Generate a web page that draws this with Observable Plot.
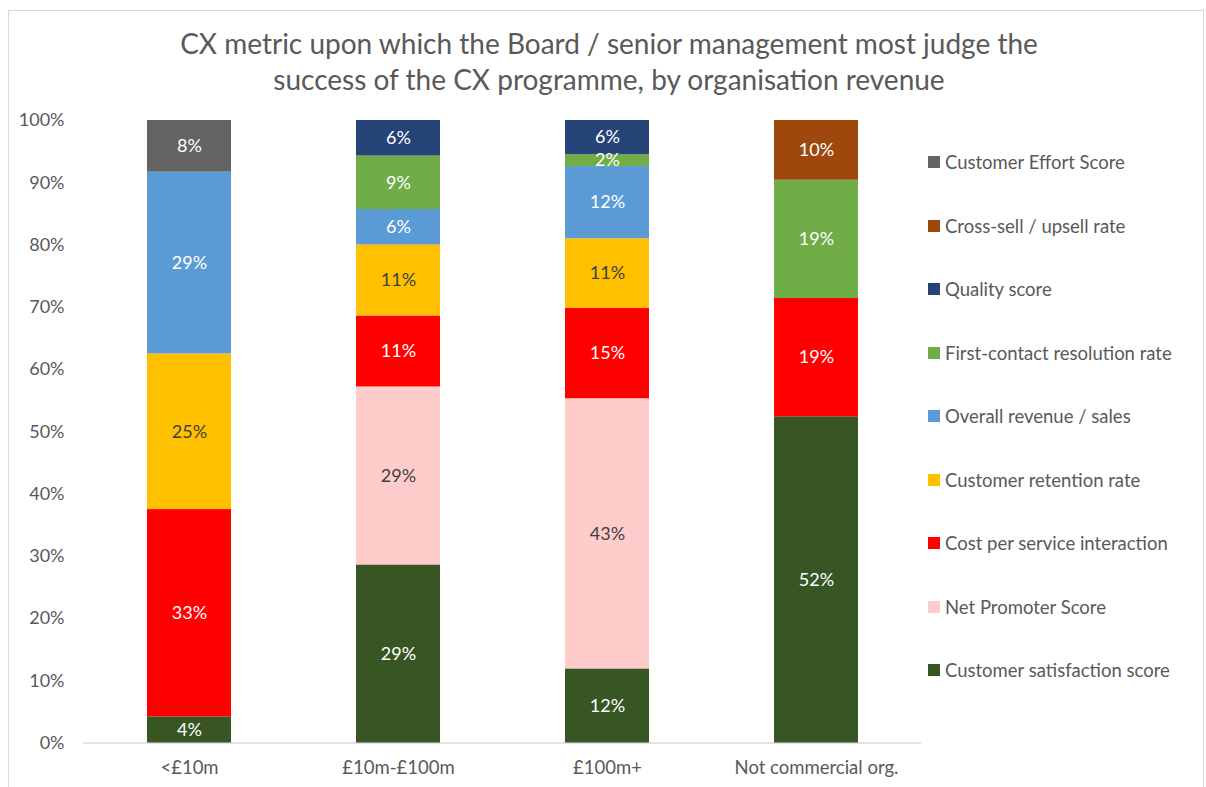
<!DOCTYPE html>
<html>
<head>
<meta charset="utf-8">
<script src="https://cdn.jsdelivr.net/npm/d3@7"></script>
<script src="https://cdn.jsdelivr.net/npm/@observablehq/plot@0.6"></script>
<style>
  html, body { margin: 0; padding: 0; background: #fff; }
  #wrap { position: relative; width: 1206px; height: 787px; overflow: hidden; font-family: Lato, "Open Sans", sans-serif; color: #595959; }
  #frame { position: absolute; left: 8px; top: 10px; width: 1196px; height: 800px; border: 1px solid #d9d9d9; box-sizing: border-box; }
  #title { position: absolute; left: 0; top: 25px; width: 1218px; text-align: center; font-size: 28px; line-height: 36px; color: #595959; }
  #chart { position: absolute; left: 0; top: 0; }
  #legend { position: absolute; left: 928px; top: 0; }
  .li { position: absolute; left: 0; white-space: nowrap; font-size: 18.5px; color: #595959; display: flex; align-items: center; }
  .sw { width: 12px; height: 12px; margin-right: 5px; }
</style>
</head>
<body>
<div id="wrap">
  <div id="frame"></div>
  <div id="chart"></div>
  <div id="title">CX metric upon which the Board / senior management most judge the<br>success of the CX programme, by organisation revenue</div>
  <div id="legend"></div>
</div>
<script>
const categories = ["<£10m", "£10m-£100m", "£100m+", "Not commercial org."];
// stacking order, bottom to top
const metrics = [
  "Customer satisfaction score",
  "Net Promoter Score",
  "Cost per service interaction",
  "Customer retention rate",
  "Overall revenue / sales",
  "First-contact resolution rate",
  "Quality score",
  "Cross-sell / upsell rate",
  "Customer Effort Score"
];
const colors = ["#375623", "#FFCCCC", "#FF0000", "#FFC000", "#5B9BD5", "#70AD47", "#264478", "#9E480E", "#636363"];
const darkLabelMetrics = ["Net Promoter Score", "Customer retention rate"];

// percentage values per metric, in category order
const csat      = [4.2, 28.6, 11.9, 52.4];
const nps       = [0, 28.6, 43.4, 0];
const cost      = [33.3, 11.4, 14.5, 19.0];
const retention = [25.0, 11.4, 11.2, 0];
const revenue   = [29.2, 5.7, 11.6, 0];
const fcr       = [0, 8.6, 1.9, 19.0];
const quality   = [0, 5.7, 5.5, 0];
const crossSell = [0, 0, 0, 9.6];
const ces       = [8.3, 0, 0, 0];
const yTicks = [0, 10, 20, 30, 40, 50, 60, 70, 80, 90, 100];

const series = [csat, nps, cost, retention, revenue, fcr, quality, crossSell, ces];
const data = [];
metrics.forEach((m, i) => {
  categories.forEach((c, j) => {
    const v = series[i][j];
    if (v > 0) data.push({category: c, metric: m, value: v, label: Math.round(v) + "%"});
  });
});

const W = 1206, H = 787;
const chart = Plot.plot({
  width: W,
  height: H,
  marginTop: 120,
  marginBottom: 44.5,
  marginLeft: 83,
  marginRight: W - 921,
  style: {fontFamily: "Lato, 'Open Sans', sans-serif", background: "transparent", overflow: "visible"},
  x: {domain: categories, paddingInner: 0.6, paddingOuter: 0.3, label: null, tickSize: 0, tickPadding: 18},
  y: {domain: [0, 100], ticks: yTicks, tickFormat: d => d + "%", label: null, tickSize: 0, tickPadding: 19},
  color: {domain: metrics, range: colors},
  marks: [
    Plot.ruleY([0], {stroke: "#d9d9d9", strokeWidth: 1.5}),
    Plot.barY(data, Plot.stackY({x: "category", y: "value", z: "metric", fill: "metric", order: metrics})),
    Plot.text(data, Plot.stackY({
      x: "category", y: "value", z: "metric", order: metrics,
      text: "label",
      fill: d => darkLabelMetrics.includes(d.metric) ? "#404040" : "#ffffff",
      fontSize: 18
    }))
  ]
});
chart.querySelectorAll("g[aria-label='y-axis tick label']").forEach(g => {
  g.setAttribute("font-size", "18");
  g.setAttribute("fill", "#595959");
});
chart.querySelectorAll("g[aria-label='x-axis tick label']").forEach(g => {
  g.setAttribute("font-size", "18.5");
  g.setAttribute("fill", "#595959");
});
document.getElementById("chart").appendChild(chart);

// legend (top to bottom = reverse of stack order)
const legend = document.getElementById("legend");
const legendOrder = metrics.slice().reverse();
legendOrder.forEach((m, i) => {
  const row = document.createElement("div");
  row.className = "li";
  row.style.top = (163 + i * 63.5 - 12) + "px";
  const sw = document.createElement("span");
  sw.className = "sw";
  sw.style.background = colors[metrics.indexOf(m)];
  const tx = document.createElement("span");
  tx.textContent = m;
  row.appendChild(sw);
  row.appendChild(tx);
  legend.appendChild(row);
});
</script>
</body>
</html>
